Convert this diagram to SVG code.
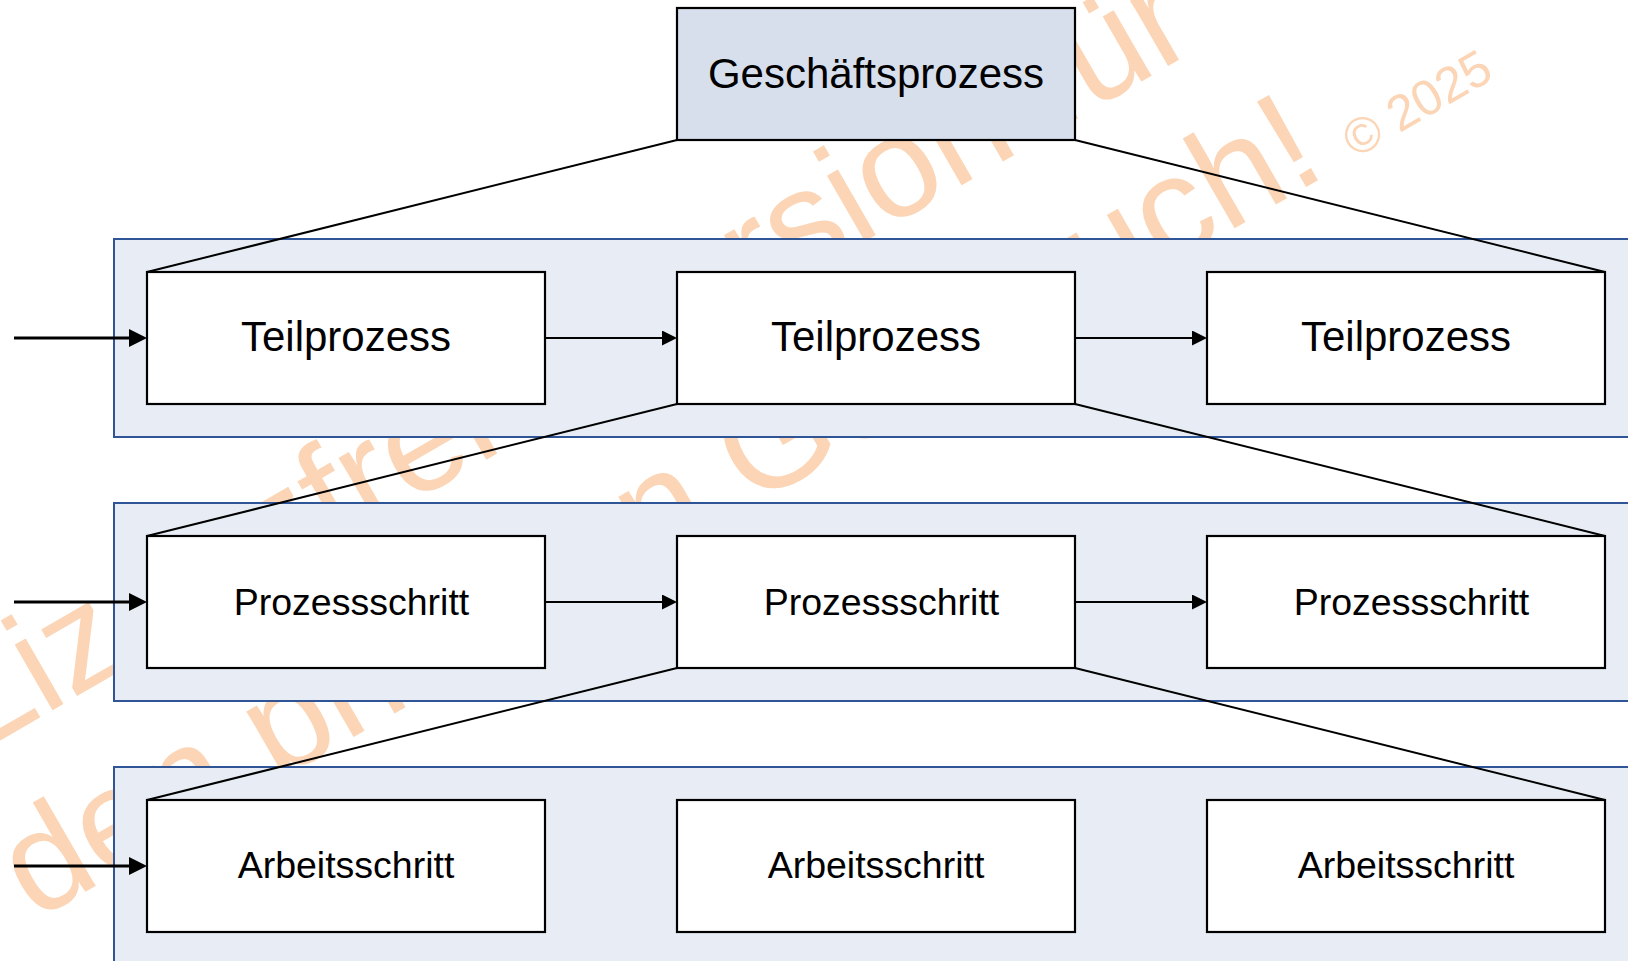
<svg xmlns="http://www.w3.org/2000/svg" width="1628" height="961" viewBox="0 0 1628 961">
  <defs>
    <style>
      .lane { fill: #E8EDF5; stroke: #2F5597; stroke-width: 2; }
      .box { fill: #FFFFFF; stroke: #000000; stroke-width: 2.2; }
      .box-top { fill: #D6DFEB; stroke: #000000; stroke-width: 2.2; }
      .label { font-family: "Liberation Sans", Arial, sans-serif; fill: #000000; text-anchor: middle; }
      .l1 { font-size: 42px; }
      .l2 { font-size: 37.5px; }
      .fan { fill: none; stroke: #000000; stroke-width: 2; }
      .flow-in { fill: none; stroke: #000000; stroke-width: 3; marker-end: url(#headIn); }
      .flow { fill: none; stroke: #000000; stroke-width: 2; marker-end: url(#headStep); }
      .wm { font-family: "Liberation Sans", Arial, sans-serif; fill: #FBD5B5; font-size: 143px; }
    </style>
    <marker id="headIn" markerUnits="userSpaceOnUse" viewBox="0 0 18 18" markerWidth="18" markerHeight="18" refX="10" refY="9" orient="auto">
      <path d="M0,0 L18,9 L0,18 Z" fill="#000000"/>
    </marker>
    <marker id="headStep" markerUnits="userSpaceOnUse" viewBox="0 0 15 15" markerWidth="15" markerHeight="15" refX="8" refY="7.5" orient="auto">
      <path d="M0,0 L15,7.5 L0,15 Z" fill="#000000"/>
    </marker>
  </defs>

  <rect x="0" y="0" width="1628" height="961" fill="#FFFFFF"/>

  <!-- licence watermark, sits under everything else -->
  <g id="watermark">
    <text class="wm" x="-24.5" y="754.7" transform="rotate(-30 -24.5 754.7)">Lizenzfreie Version für</text>
    <text class="wm" x="35" y="921" transform="rotate(-30 35 921)">den privaten Gebrauch!<tspan font-size="50" dx="30">© 2025</tspan></text>
  </g>

  <!-- level lanes -->
  <g id="lanes">
    <rect id="lane-teilprozesse" class="lane" x="114" y="239" width="1530" height="198"/>
    <rect id="lane-prozessschritte" class="lane" x="114" y="503" width="1530" height="198"/>
    <rect id="lane-arbeitsschritte" class="lane" x="114" y="767" width="1530" height="220"/>
  </g>

  <g id="connectors">
    <!-- decomposition fans -->
    <line class="fan" x1="677" y1="140" x2="147" y2="272"/>
    <line class="fan" x1="1075" y1="140" x2="1605" y2="272"/>
    <line class="fan" x1="677" y1="404" x2="147" y2="536"/>
    <line class="fan" x1="1075" y1="404" x2="1605" y2="536"/>
    <line class="fan" x1="677" y1="668" x2="147" y2="800"/>
    <line class="fan" x1="1075" y1="668" x2="1605" y2="800"/>
    <!-- entry arrows -->
    <line class="flow-in" x1="14" y1="338" x2="139" y2="338"/>
    <line class="flow-in" x1="14" y1="602" x2="139" y2="602"/>
    <line class="flow-in" x1="14" y1="866" x2="139" y2="866"/>
    <!-- sequence arrows -->
    <line class="flow" x1="545" y1="338" x2="670" y2="338"/>
    <line class="flow" x1="1075" y1="338" x2="1200" y2="338"/>
    <line class="flow" x1="545" y1="602" x2="670" y2="602"/>
    <line class="flow" x1="1075" y1="602" x2="1200" y2="602"/>
  </g>

  <g id="geschaeftsprozess">
    <rect class="box-top" x="677" y="8" width="398" height="132"/>
    <text class="label l1" x="876" y="87.5">Geschäftsprozess</text>
  </g>

  <g id="teilprozess-1">
    <rect class="box" x="147" y="272" width="398" height="132"/>
    <text class="label l1" x="346" y="351">Teilprozess</text>
  </g>
  <g id="teilprozess-2">
    <rect class="box" x="677" y="272" width="398" height="132"/>
    <text class="label l1" x="876" y="351">Teilprozess</text>
  </g>
  <g id="teilprozess-3">
    <rect class="box" x="1207" y="272" width="398" height="132"/>
    <text class="label l1" x="1406" y="351">Teilprozess</text>
  </g>

  <g id="prozessschritt-1">
    <rect class="box" x="147" y="536" width="398" height="132"/>
    <text class="label l2" x="351.5" y="614.5">Prozessschritt</text>
  </g>
  <g id="prozessschritt-2">
    <rect class="box" x="677" y="536" width="398" height="132"/>
    <text class="label l2" x="881.5" y="614.5">Prozessschritt</text>
  </g>
  <g id="prozessschritt-3">
    <rect class="box" x="1207" y="536" width="398" height="132"/>
    <text class="label l2" x="1411.5" y="614.5">Prozessschritt</text>
  </g>

  <g id="arbeitsschritt-1">
    <rect class="box" x="147" y="800" width="398" height="132"/>
    <text class="label l2" x="346" y="878">Arbeitsschritt</text>
  </g>
  <g id="arbeitsschritt-2">
    <rect class="box" x="677" y="800" width="398" height="132"/>
    <text class="label l2" x="876" y="878">Arbeitsschritt</text>
  </g>
  <g id="arbeitsschritt-3">
    <rect class="box" x="1207" y="800" width="398" height="132"/>
    <text class="label l2" x="1406" y="878">Arbeitsschritt</text>
  </g>
</svg>
